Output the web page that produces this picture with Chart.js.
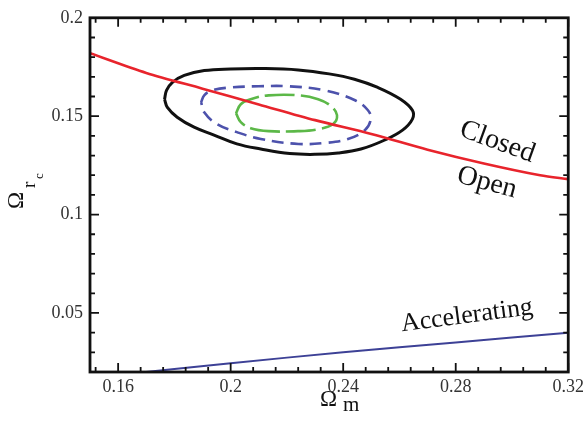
<!DOCTYPE html>
<html>
<head>
<meta charset="utf-8">
<script src="https://cdn.jsdelivr.net/npm/chart.js@4"></script>
<style>
  html, body { margin: 0; padding: 0; background: #fff; }
  #wrap { width: 588px; height: 424px; }
</style>
</head>
<body>
<div id="wrap"><canvas id="chart" width="588" height="424"></canvas></div>
<script>
// tick labels
const xTicks = [0.16, 0.2, 0.24, 0.28, 0.32];
const yTicks = [0.05, 0.1, 0.15, 0.2];
const xMinor = [0.152, 0.168, 0.176, 0.184, 0.192, 0.208, 0.216, 0.224, 0.232, 0.248, 0.256, 0.264, 0.272, 0.288, 0.296, 0.304, 0.312];
const yMinor = [0.03, 0.04, 0.06, 0.07, 0.08, 0.09, 0.11, 0.12, 0.13, 0.14, 0.16, 0.17, 0.18, 0.19];

// flat universe line (closed / open)
const flatX = [0.15, 0.17, 0.19, 0.21, 0.23, 0.25, 0.27, 0.29, 0.31, 0.32];
const flatY = [0.182, 0.172, 0.164, 0.156, 0.148, 0.141, 0.133, 0.126, 0.120, 0.118];

// accelerating line
const accX = [0.16, 0.20, 0.24, 0.28, 0.32];
const accY = [0.0185, 0.0245, 0.0300, 0.0350, 0.0400];

// confidence contours (closed loops)
const outerX = [0.1765, 0.1772, 0.1793, 0.1835, 0.1906, 0.2000, 0.2120, 0.2240, 0.2350, 0.2440, 0.2523, 0.2604, 0.2646, 0.2646, 0.2611, 0.2548, 0.2463, 0.2382, 0.2300, 0.2210, 0.2107, 0.2022, 0.1941, 0.1870, 0.1810, 0.1775, 0.1765];
const outerY = [0.1586, 0.1631, 0.1672, 0.1707, 0.1732, 0.1740, 0.1742, 0.1735, 0.1715, 0.1688, 0.1646, 0.1586, 0.1530, 0.1485, 0.1429, 0.1379, 0.1333, 0.1313, 0.1306, 0.1310, 0.1333, 0.1359, 0.1404, 0.1444, 0.1495, 0.1545, 0.1586];

const midX = [0.1895, 0.1906, 0.1934, 0.2001, 0.2100, 0.2205, 0.2336, 0.2442, 0.2488, 0.2498, 0.2477, 0.2417, 0.2336, 0.2241, 0.2107, 0.2022, 0.1951, 0.1906, 0.1895];
const midY = [0.1571, 0.1606, 0.1631, 0.1646, 0.1652, 0.1652, 0.1631, 0.1581, 0.1530, 0.1485, 0.1429, 0.1384, 0.1364, 0.1359, 0.1384, 0.1419, 0.1460, 0.1520, 0.1571];

const innerX = [0.2019, 0.2036, 0.2071, 0.2135, 0.2241, 0.2311, 0.2357, 0.2378, 0.2364, 0.2311, 0.2241, 0.2135, 0.2071, 0.2036, 0.2019];
const innerY = [0.1515, 0.1561, 0.1586, 0.1606, 0.1606, 0.1586, 0.1551, 0.1505, 0.1460, 0.1434, 0.1424, 0.1424, 0.1439, 0.1470, 0.1515];

const pts = (xs, ys) => xs.map((x, i) => ({ x: x, y: ys[i] }));

const serif = "'Liberation Serif', 'DejaVu Serif', serif";

// frame, inward ticks, axis titles and curve labels
const decor = {
    id: 'decor',
    afterDatasetsDraw(chart) {
        const ctx = chart.ctx;
        const a = chart.chartArea;
        const xs = chart.scales.x, ys = chart.scales.y;
        ctx.save();
        ctx.strokeStyle = '#111';
        ctx.lineWidth = 1.8;
        const tick = (vals, len) => {
            vals.forEach(v => {
                const px = xs.getPixelForValue(v);
                ctx.beginPath();
                ctx.moveTo(px, a.bottom); ctx.lineTo(px, a.bottom - len);
                ctx.moveTo(px, a.top); ctx.lineTo(px, a.top + len);
                ctx.stroke();
            });
        };
        const tickY = (vals, len) => {
            vals.forEach(v => {
                const py = ys.getPixelForValue(v);
                ctx.beginPath();
                ctx.moveTo(a.left, py); ctx.lineTo(a.left + len, py);
                ctx.moveTo(a.right, py); ctx.lineTo(a.right - len, py);
                ctx.stroke();
            });
        };
        tick(xTicks, 9); tick(xMinor, 5);
        tickY(yTicks, 9); tickY(yMinor, 5);

        ctx.lineWidth = 2.8;
        ctx.strokeRect(a.left, a.top, a.right - a.left, a.bottom - a.top);

        // curve labels
        ctx.fillStyle = '#111';
        ctx.textAlign = 'center';
        ctx.textBaseline = 'middle';
        const label = (txt, x, y, deg, size) => {
            ctx.save();
            ctx.translate(xs.getPixelForValue(x), ys.getPixelForValue(y));
            ctx.rotate(deg * Math.PI / 180);
            ctx.font = size + 'px ' + serif;
            ctx.fillText(txt, 0, 0);
            ctx.restore();
        };
        label('Closed', 0.2948, 0.1369, 20, 28);
        label('Open', 0.2911, 0.1162, 15, 28);
        label('Accelerating', 0.284, 0.0485, -7.5, 26);

        // x axis title: Omega_m
        ctx.textAlign = 'left';
        ctx.textBaseline = 'alphabetic';
        ctx.font = '23px ' + serif;
        ctx.fillText('\u03A9', 320, 406);
        ctx.font = '21px ' + serif;
        ctx.fillText('m', 343, 411);

        // y axis title: Omega_{r_c}
        ctx.save();
        ctx.translate(23, 209);
        ctx.rotate(-Math.PI / 2);
        ctx.font = '23px ' + serif;
        ctx.fillText('\u03A9', 0, 0);
        ctx.font = '19px ' + serif;
        ctx.fillText('r', 21, 12);
        ctx.font = '13px ' + serif;
        ctx.fillText('c', 30, 20);
        ctx.restore();

        ctx.restore();
    }
};

new Chart(document.getElementById('chart'), {
    type: 'scatter',
    data: {
        datasets: [
            { data: pts(flatX, flatY), showLine: true, borderColor: '#e8242c', borderWidth: 2.6, pointRadius: 0, tension: 0.3 },
            { data: pts(innerX, innerY), showLine: true, borderColor: '#5cb848', borderWidth: 2.6, borderDash: [30, 6], pointRadius: 0, tension: 0.4 },
            { data: pts(midX, midY), showLine: true, borderColor: '#4d52ac', borderWidth: 2.6, borderDash: [12, 7], pointRadius: 0, tension: 0.4 },
            { data: pts(outerX, outerY), showLine: true, borderColor: '#111111', borderWidth: 3, pointRadius: 0, tension: 0.4 },
            { data: pts(accX, accY), showLine: true, borderColor: '#3d4196', borderWidth: 2, pointRadius: 0, tension: 0.3 }
        ]
    },
    options: {
        responsive: false,
        animation: false,
        layout: { padding: { top: 15, right: 16, left: 0, bottom: 0 } },
        plugins: { legend: { display: false }, tooltip: { enabled: false } },
        scales: {
            x: {
                type: 'linear', min: 0.15, max: 0.32,
                afterBuildTicks: s => { s.ticks = xTicks.map(v => ({ value: v })); },
                afterFit: s => { s.height = 52; },
                grid: { display: false, drawTicks: false },
                border: { display: false },
                ticks: { padding: 4, color: '#333', font: { family: serif, size: 18 }, callback: v => String(v), maxRotation: 0 }
            },
            y: {
                type: 'linear', min: 0.02, max: 0.2,
                afterBuildTicks: s => { s.ticks = yTicks.map(v => ({ value: v })); },
                afterFit: s => { s.width = 90; },
                grid: { display: false, drawTicks: false },
                border: { display: false },
                ticks: { padding: 7, color: '#333', font: { family: serif, size: 18 }, callback: v => String(v) }
            }
        }
    },
    plugins: [decor]
});
</script>
</body>
</html>
